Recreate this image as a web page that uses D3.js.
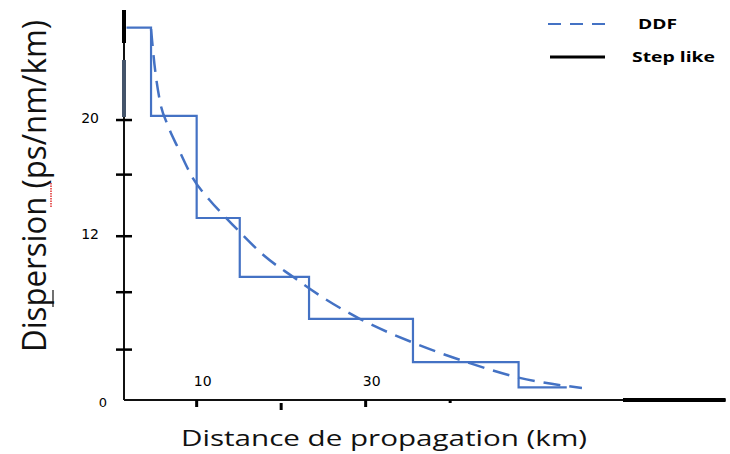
<!DOCTYPE html>
<html>
<head>
<meta charset="utf-8">
<script src="https://cdn.jsdelivr.net/npm/d3@7"></script>
<style>
  body { margin: 0; background: #fff; }
  #chart { width: 730px; height: 454px; }
</style>
</head>
<body>
<div id="chart"></div>
<script>
// step-like profile: breakpoints (km) and dispersion values
const stepKm = [1.7, 4.6, 10, 15.1, 23.3, 35.6, 48.1, 53.8];
const stepDisp = [26.6, 20.3, 13.0, 8.8, 5.8, 2.7, 0.9, 0.9];

// DDF curve
const ddfKm = [4.6, 5.0, 5.6, 6.6, 7.8, 9.5, 11.5, 13.5, 15.1, 18, 21.4, 25, 29.3, 35.6, 42.0, 48.1, 55.6];
const ddfDisp = [26.5, 24.0, 21.5, 19.6, 18.0, 15.9, 14.3, 13.0, 12.0, 10.3, 8.8, 7.3, 5.8, 4.1, 2.7, 1.6, 0.86];

const yTicks = [3.6, 7.7, 11.7, 16.1, 20];
const yTickLabels = ["", "", "12", "", "20"];
const xTicks = [10, 20, 30, 40];
const xTickLabels = ["10", "", "30", ""];

const svg = d3.select("#chart").append("svg")
  .attr("width", 730)
  .attr("height", 454);

const x = d3.scaleLinear().domain([1.4, 72.6]).range([124, 725.6]);
const y = d3.scaleLinear().domain([0, 27.86]).range([400, 10]);

const blue = "#4472c4";

// axes lines
svg.append("line")
  .attr("x1", x(1.4)).attr("x2", x(72.6))
  .attr("y1", y(0)).attr("y2", y(0))
  .attr("stroke", "#111").attr("stroke-width", 2);
svg.append("line")
  .attr("x1", 623).attr("x2", x(72.6))
  .attr("y1", y(0)).attr("y2", y(0))
  .attr("stroke", "#000").attr("stroke-width", 4);
svg.append("line")
  .attr("x1", 124).attr("x2", 124)
  .attr("y1", y(27.86)).attr("y2", y(0))
  .attr("stroke", "#111").attr("stroke-width", 2);
// heavy bits on the y axis
svg.append("line")
  .attr("x1", 124).attr("x2", 124).attr("y1", 10).attr("y2", 43)
  .attr("stroke", "#000").attr("stroke-width", 4);
svg.append("line")
  .attr("x1", 124).attr("x2", 124).attr("y1", 60).attr("y2", 117)
  .attr("stroke", "#44546a").attr("stroke-width", 4);

// y ticks
svg.selectAll(".ytick")
  .data(yTicks)
  .enter().append("line")
  .attr("x1", 116).attr("x2", 132)
  .attr("y1", d => y(d)).attr("y2", d => y(d))
  .attr("stroke", "#000").attr("stroke-width", 2.5);

svg.selectAll(".ylab")
  .data(yTicks)
  .enter().append("text")
  .attr("x", 99)
  .attr("y", d => y(d) + 3)
  .attr("text-anchor", "end")
  .style("font-family", "DejaVu Sans")
  .style("font-size", "14px")
  .text((d, i) => yTickLabels[i]);

svg.append("text")
  .attr("x", 107).attr("y", 407)
  .attr("text-anchor", "end")
  .style("font-family", "DejaVu Sans")
  .style("font-size", "13px")
  .text("0");

// x ticks (below the axis)
svg.selectAll(".xtick")
  .data(xTicks)
  .enter().append("line")
  .attr("x1", d => x(d)).attr("x2", d => x(d))
  .attr("y1", (d, i) => i === 1 ? 403 : 400)
  .attr("y2", (d, i) => i === 3 ? 403 : (i === 1 ? 410 : 407))
  .attr("stroke", "#000").attr("stroke-width", 3);

svg.selectAll(".xlab")
  .data(xTicks)
  .enter().append("text")
  .attr("x", d => x(d) + 6)
  .attr("y", 386)
  .attr("text-anchor", "middle")
  .style("font-family", "DejaVu Sans")
  .style("font-size", "14px")
  .text((d, i) => xTickLabels[i]);

// step-like line
const stepLine = d3.line()
  .x(d => x(d[0]))
  .y(d => y(d[1]))
  .curve(d3.curveStepAfter);

svg.append("path")
  .datum(d3.zip(stepKm, stepDisp))
  .attr("d", stepLine)
  .attr("fill", "none")
  .attr("stroke", blue)
  .attr("stroke-width", 2.2);

// DDF dashed curve
const ddfLine = d3.line()
  .x(d => x(d[0]))
  .y(d => y(d[1]))
  .curve(d3.curveMonotoneX);

svg.append("path")
  .datum(d3.zip(ddfKm, ddfDisp))
  .attr("d", ddfLine)
  .attr("fill", "none")
  .attr("stroke", blue)
  .attr("stroke-width", 2.5)
  .attr("stroke-dasharray", "17,9");

// legend
svg.append("line")
  .attr("x1", 548).attr("x2", 607).attr("y1", 24).attr("y2", 24)
  .attr("stroke", blue).attr("stroke-width", 2)
  .attr("stroke-dasharray", "13,9");
svg.append("text")
  .attr("x", 638).attr("y", 29)
  .attr("textLength", 39)
  .attr("lengthAdjust", "spacingAndGlyphs")
  .style("font-family", "Open Sans")
  .style("font-weight", "bold")
  .style("font-size", "15px")
  .text("DDF");
svg.append("line")
  .attr("x1", 550).attr("x2", 605).attr("y1", 57).attr("y2", 57)
  .attr("stroke", "#000").attr("stroke-width", 3);
svg.append("text")
  .attr("x", 632).attr("y", 62)
  .attr("textLength", 83)
  .attr("lengthAdjust", "spacingAndGlyphs")
  .style("font-family", "Open Sans")
  .style("font-weight", "bold")
  .style("font-size", "15px")
  .text("Step like");

// axis titles
svg.append("text")
  .attr("x", 181).attr("y", 446)
  .attr("textLength", 406)
  .attr("lengthAdjust", "spacingAndGlyphs")
  .style("font-family", "Open Sans")
  .style("font-size", "22px")
  .attr("fill", "#111")
  .text("Distance de propagation (km)");

svg.append("text")
  .attr("transform", "translate(46,352) rotate(-90)")
  .attr("textLength", 332)
  .attr("lengthAdjust", "spacingAndGlyphs")
  .style("font-family", "Open Sans")
  .style("font-size", "32px")
  .attr("fill", "#111")
  .text("Dispersion (ps/nm/km)");

// editor marks under the title: underline and red squiggle
svg.append("line")
  .attr("x1", 53).attr("x2", 53).attr("y1", 290).attr("y2", 307)
  .attr("stroke", "#111").attr("stroke-width", 1.2);
svg.append("line")
  .attr("x1", 51).attr("x2", 51).attr("y1", 183).attr("y2", 207)
  .attr("stroke", "#e03030").attr("stroke-width", 1.5)
  .attr("stroke-dasharray", "1.5,1");
</script>
</body>
</html>
